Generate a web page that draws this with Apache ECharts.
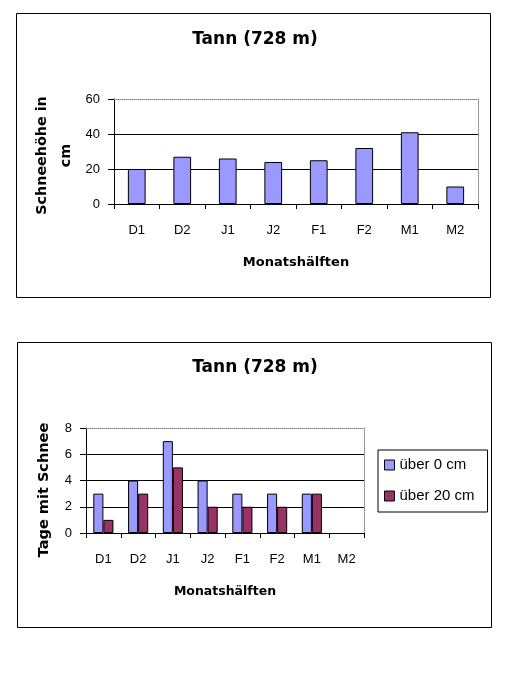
<!DOCTYPE html>
<html>
<head>
<meta charset="utf-8">
<script src="https://cdn.jsdelivr.net/npm/echarts@6/dist/echarts.min.js"></script>
<style>
html,body{margin:0;padding:0;background:#fff;}
#c{width:510px;height:700px;}
</style>
</head>
<body>
<div id="c"></div>
<script>
const categories = ['D1', 'D2', 'J1', 'J2', 'F1', 'F2', 'M1', 'M2'];
const schneehoehe = [20, 27, 26, 24, 25, 32, 41, 10];
const tageUeber0 = [3, 4, 7, 4, 3, 3, 3, 0];
const tageUeber20 = [1, 3, 5, 2, 2, 2, 3, 0];
const seriesNames = ['über 0 cm', 'über 20 cm'];
const titleText = 'Tann (728 m)';
const xName = 'Monatshälften';
const yName1 = 'Schneehöhe in\ncm';
const yName2 = 'Tage mit Schnee';

const BLUE = '#9999FF';
const RED = '#993366';
const tickFont = {fontFamily: 'Liberation Sans', fontSize: 13, color: '#000'};
const nameFont = {fontFamily: 'DejaVu Sans', fontWeight: 'bold', color: '#000'};

// zero-height bars draw nothing (as in the reference)
function barData(values) {
  return values.map(v => v === 0 ? {value: 0, itemStyle: {borderWidth: 0}} : v);
}

function mainX(gi, nameSize) {
  return {
    type: 'category', gridIndex: gi, data: categories, position: 'bottom',
    axisLine: {show: true, onZero: false, lineStyle: {color: '#000', width: 1}},
    axisTick: {show: true, length: 5, inside: false, lineStyle: {color: '#000'}},
    axisLabel: Object.assign({margin: 19, lineHeight: 15}, tickFont),
    splitLine: {show: false},
    name: xName, nameLocation: 'middle', nameGap: 51, nameMoveOverlap: false,
    nameTextStyle: Object.assign({fontSize: nameSize, lineHeight: 15}, nameFont)
  };
}
function topX(gi) {
  return {
    type: 'category', gridIndex: gi, data: categories, position: 'top',
    axisLine: {show: true, onZero: false, lineStyle: {color: '#808080', type: 'dotted', width: 1}},
    axisTick: {show: false}, axisLabel: {show: false}, splitLine: {show: false}
  };
}
function rightY(gi) {
  return {
    type: 'value', gridIndex: gi, position: 'right',
    axisLine: {show: true, onZero: false, lineStyle: {color: '#808080', type: 'dotted', width: 1}},
    axisTick: {show: false}, axisLabel: {show: false}, splitLine: {show: false}
  };
}

const option = {
  animation: false,
  backgroundColor: '#fff',
  graphic: [
    {type: 'rect', shape: {x: 16.5, y: 13.5, width: 474, height: 284}, style: {fill: 'none', stroke: '#000', lineWidth: 1}, silent: true},
    {type: 'rect', shape: {x: 17.5, y: 342.5, width: 474, height: 285}, style: {fill: 'none', stroke: '#000', lineWidth: 1}, silent: true}
  ],
  title: [
    {text: titleText, left: 'center', top: 30, padding: 0,
     textStyle: Object.assign({fontSize: 17, lineHeight: 20}, nameFont)},
    {text: titleText, left: 'center', top: 358, padding: 0,
     textStyle: Object.assign({fontSize: 17, lineHeight: 20}, nameFont)}
  ],
  legend: {
    data: seriesNames,
    orient: 'vertical',
    left: 378, top: 450,
    padding: [7, 13, 8, 6],
    itemGap: 15,
    itemWidth: 10, itemHeight: 10,
    borderColor: '#000', borderWidth: 1,
    icon: 'rect',
    itemStyle: {borderColor: '#000', borderWidth: 1},
    textStyle: {fontFamily: 'Liberation Sans', fontSize: 15, color: '#000', lineHeight: 16}
  },
  grid: [
    {left: 114, right: 32, top: 99, bottom: 496, containLabel: false},
    {left: 86, right: 146, top: 428, bottom: 167, containLabel: false}
  ],
  xAxis: [mainX(0, 13), topX(0), mainX(1, 12.5), topX(1)],
  yAxis: [
    {
      type: 'value', gridIndex: 0, min: 0, max: 60, interval: 20,
      axisLine: {show: true, lineStyle: {color: '#000', width: 1}},
      axisTick: {show: true, length: 6, lineStyle: {color: '#000'}},
      axisLabel: Object.assign({margin: 14}, tickFont),
      splitLine: {show: true, lineStyle: {color: ['#000', '#000', '#000', 'rgba(0,0,0,0)'], width: 1}},
      name: yName1, nameLocation: 'middle', nameGap: 36, nameRotate: 90, nameMoveOverlap: false,
      nameTextStyle: Object.assign({fontSize: 14.3, lineHeight: 24, padding: [0, 8, 0, 0]}, nameFont)
    },
    rightY(0),
    {
      type: 'value', gridIndex: 1, min: 0, max: 8, interval: 2,
      axisLine: {show: true, lineStyle: {color: '#000', width: 1}},
      axisTick: {show: true, length: 6, lineStyle: {color: '#000'}},
      axisLabel: Object.assign({margin: 14}, tickFont),
      splitLine: {show: true, lineStyle: {color: ['#000', '#000', '#000', '#000', 'rgba(0,0,0,0)'], width: 1}},
      name: yName2, nameLocation: 'middle', nameGap: 33, nameRotate: 90, nameMoveOverlap: false,
      nameTextStyle: Object.assign({fontSize: 14.5, lineHeight: 17, padding: [0, 19, 0, 0]}, nameFont)
    },
    rightY(1)
  ],
  series: [
    {
      name: 'Schneehöhe', type: 'bar', xAxisIndex: 0, yAxisIndex: 0,
      data: barData(schneehoehe), barCategoryGap: '61%',
      itemStyle: {color: BLUE, borderColor: '#000', borderWidth: 1}
    },
    {
      name: seriesNames[0], type: 'bar', xAxisIndex: 2, yAxisIndex: 2,
      data: barData(tageUeber0), barGap: '0%', barCategoryGap: '42%',
      itemStyle: {color: BLUE, borderColor: '#000', borderWidth: 1}
    },
    {
      name: seriesNames[1], type: 'bar', xAxisIndex: 2, yAxisIndex: 2,
      data: barData(tageUeber20), barGap: '0%', barCategoryGap: '42%',
      itemStyle: {color: RED, borderColor: '#000', borderWidth: 1}
    }
  ]
};

const chart = echarts.init(document.getElementById('c'), null, {renderer: 'canvas'});
chart.setOption(option);
</script>
</body>
</html>
